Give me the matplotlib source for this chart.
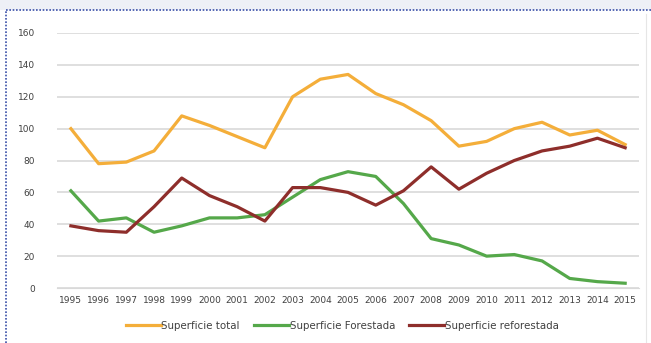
import numpy as np
import matplotlib.pyplot as plt
from matplotlib.lines import Line2D
from matplotlib.patches import Rectangle

years = [str(y) for y in range(1995, 2016)]
sup_total = [100, 78, 79, 86, 108, 102, 95, 88, 120, 131, 134, 122, 115, 105, 89, 92, 100, 104, 96, 99, 90]
sup_forestada = [61, 42, 44, 35, 39, 44, 44, 46, 57, 68, 73, 70, 53, 31, 27, 20, 21, 17, 6, 4, 3]
sup_reforestada = [39, 36, 35, 51, 69, 58, 51, 42, 63, 63, 60, 52, 61, 76, 62, 72, 80, 86, 89, 94, 88]

c_total = '#F4AE3A'
c_forest = '#55A84A'
c_refor = '#8E2E2B'

fig = plt.figure(figsize=(6.51, 3.43), dpi=100)
fig.patch.set_facecolor('white')
ax = fig.add_axes([0.0876, 0.1603, 0.8940, 0.7435])

x = np.arange(len(years))
ax.plot(x, sup_total, color=c_total, lw=2.3, label='Superficie total')
ax.plot(x, sup_forestada, color=c_forest, lw=2.3, label='Superficie Forestada')
ax.plot(x, sup_reforestada, color=c_refor, lw=2.3, label='Superficie reforestada')

ax.set_xlim(-0.5, len(years) - 0.5)
ax.set_ylim(0, 160)
ax.set_yticks(range(0, 161, 20))
ax.set_xticks(x)
ax.set_xticklabels(years)
ax.yaxis.grid(True, color='#d9d9d9', lw=1.2)
ax.set_axisbelow(True)
for s in ['top', 'right', 'left']:
    ax.spines[s].set_visible(False)
ax.spines['bottom'].set_color('#d9d9d9')
ax.tick_params(axis='both', length=0, labelsize=6.5, colors='#404040')
ax.tick_params(axis='y', pad=16)
ax.tick_params(axis='x', pad=6)

fig.legend(loc='center', bbox_to_anchor=(0.526, 1 - 326 / 343), ncol=3,
           frameon=False, fontsize=7.4, handlelength=3.4, handletextpad=0.05,
           columnspacing=1.4, labelcolor='#404040')

# light strip above the frame, then dotted frame (top and left)
fig.add_artist(Rectangle((0, 1 - 10 / 343), 1, 10 / 343, transform=fig.transFigure,
                         facecolor='#eef0f6', edgecolor='none'))
fig.add_artist(Line2D([6 / 651, 1], [1 - 10 / 343, 1 - 10 / 343], transform=fig.transFigure,
                      color='#3a4fa8', lw=1.2, ls=(0, (1, 1))))
fig.add_artist(Line2D([6 / 651, 6 / 651], [0, 1 - 10 / 343], transform=fig.transFigure,
                      color='#3a4fa8', lw=1.2, ls=(0, (1, 1))))
fig.add_artist(Line2D([646 / 651, 646 / 651], [0, 1 - 14 / 343], transform=fig.transFigure,
                      color='#e6e6e6', lw=0.8))

fig.savefig('out.png', dpi=100, facecolor='white')
